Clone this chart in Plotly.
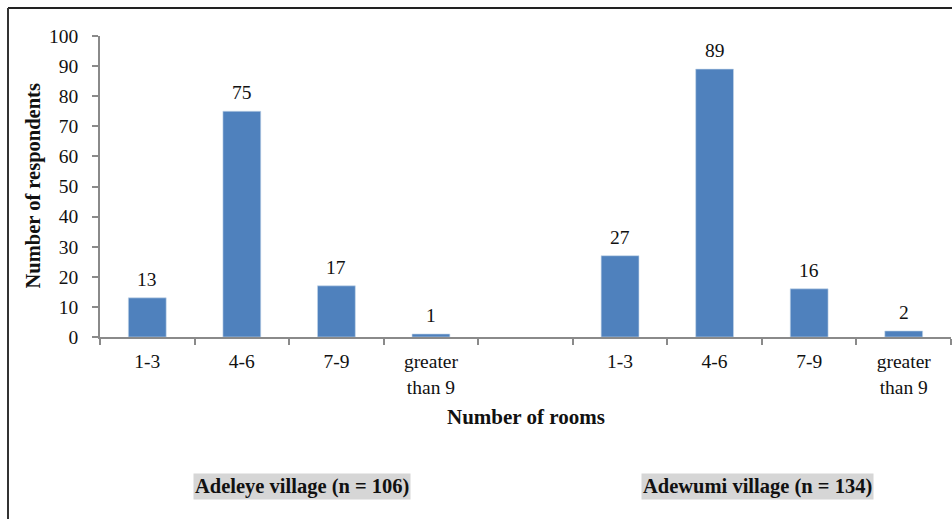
import plotly.graph_objects as go

# Data
categories = ["1-3", "4-6", "7-9", "greater<br>than 9", "", "1-3", "4-6", "7-9", "greater<br>than 9"]
values = [13, 75, 17, 1, None, 27, 89, 16, 2]
y_ticks = [0, 10, 20, 30, 40, 50, 60, 70, 80, 90, 100]
group_labels = ["Adeleye village (n = 106)", "Adewumi village (n = 134)"]

W, H = 952, 519
L, R, T, B = 100, 1, 36, 182
pw = W - L - R
ph = H - T - B

def px_x(p):
    return (p - L) / pw

def px_y(p):
    return (H - B - p) / ph

group_label_px = [302, 757]

FONT = "Liberation Serif"
xs = list(range(len(categories)))

fig = go.Figure()
fig.add_trace(go.Bar(
    x=[x for x, v in zip(xs, values) if v is not None],
    y=[v for v in values if v is not None],
    marker=dict(color="#4f81bd", line=dict(color="#c6d6ea", width=0.6)),
    hoverinfo="skip",
))

annotations = []
for x, v in zip(xs, values):
    if v is None:
        continue
    annotations.append(dict(x=x, y=v, xref="x", yref="y", text=str(v), showarrow=False,
                            yanchor="bottom", yshift=6, font=dict(family=FONT, size=19.5, color="#111")))

annotations.append(dict(x=px_x(33), y=0.5, xref="paper", yref="paper", text="<b>Number of respondents</b>",
                        textangle=-90, showarrow=False, xanchor="center", yanchor="middle",
                        font=dict(family=FONT, size=20.5, color="#111")))
annotations.append(dict(x=0.5, y=px_y(417), xref="paper", yref="paper", text="<b>Number of rooms</b>",
                        showarrow=False, xanchor="center", yanchor="middle",
                        font=dict(family=FONT, size=21, color="#111")))
for lbl, cx in zip(group_labels, group_label_px):
    annotations.append(dict(x=px_x(cx), y=px_y(486), xref="paper", yref="paper", text="<b>" + lbl + "</b>",
                            showarrow=False, bgcolor="#d6d6d6", borderpad=1,
                            xanchor="center", yanchor="middle",
                            font=dict(family=FONT, size=20.5, color="#111")))

shapes = [
    dict(type="line", xref="paper", yref="paper", x0=px_x(8), x1=px_x(960), y0=px_y(8), y1=px_y(8),
         line=dict(color="#222", width=2)),
    dict(type="line", xref="paper", yref="paper", x0=px_x(8), x1=px_x(8), y0=px_y(8), y1=px_y(530),
         line=dict(color="#333", width=2)),
]

fig.update_layout(
    width=W, height=H,
    margin=dict(l=L, r=R, t=T, b=B, pad=0),
    paper_bgcolor="white", plot_bgcolor="white",
    font=dict(family=FONT, size=19, color="#111"),
    bargap=0.6,
    showlegend=False,
    annotations=annotations,
    shapes=shapes,
    xaxis=dict(
        range=[-0.5, 8.5], tickvals=xs, ticktext=categories, ticks="",
        showline=True, linecolor="#8a8a8a", linewidth=1.5, showgrid=False, zeroline=False,
        tickfont=dict(family=FONT, size=19.5, color="#111"), ticklabelstandoff=6,
        minor=dict(tick0=-0.5, dtick=1, ticks="outside", ticklen=6, tickcolor="#8a8a8a", tickwidth=1.5, showgrid=False),
        fixedrange=True,
    ),
    yaxis=dict(
        range=[0, 100], tickvals=y_ticks, ticks="outside", ticklen=6, tickcolor="#8a8a8a", tickwidth=1.5,
        showline=True, linecolor="#8a8a8a", linewidth=1.5, showgrid=False, zeroline=False,
        tickfont=dict(family=FONT, size=19.5, color="#111"), ticklabelstandoff=10, fixedrange=True,
    ),
)

fig.write_html("out.html")
